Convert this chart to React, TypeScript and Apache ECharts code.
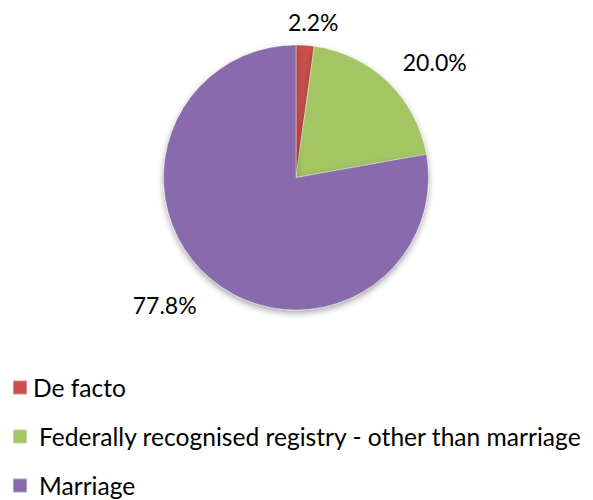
import React, { useEffect, useRef } from "react";
import * as echarts from "echarts";

const categories = [
  "De facto",
  "Federally recognised registry - other than marriage",
  "Marriage",
];
const values = [2.2, 20.0, 77.8];
const colors = ["#C9504C", "#A3C563", "#896BAC"];

// label placement tweaks (px) relative to an anchor just outside each slice
const labelDx = [6, 26, -27];
const labelDy = [7, 2, 3];
const legendTextPad = [1, 7, 7];

const CX = 296;
const CY = 177.5;
const R = 132.5;

export default function App() {
  const ref = useRef<HTMLDivElement>(null);
  useEffect(() => {
    if (!ref.current) return;
    const chart = echarts.init(ref.current, null, { renderer: "svg" });
    const total = values.reduce((a, b) => a + b, 0);
    const mids: number[] = [];
    let acc = 0;
    values.forEach((v) => {
      mids.push(90 - ((acc + v / 2) / total) * 360);
      acc += v;
    });
    chart.setOption({
      animation: false,
      backgroundColor: "#ffffff",
      legend: {
        type: "plain",
        orient: "vertical",
        left: 12,
        top: 375,
        padding: 0,
        itemGap: 24,
        itemWidth: 14,
        itemHeight: 14,
        icon: "rect",
        data: categories.map((c, i) => ({
          name: c,
          textStyle: { padding: [0, 0, 0, legendTextPad[i]] },
        })),
        textStyle: {
          fontFamily: "Lato",
          fontSize: 24.6,
          lineHeight: 24,
          color: "#000",
        },
      },
      series: [
        {
          type: "pie",
          center: [CX, CY],
          radius: R,
          startAngle: 90,
          clockwise: true,
          data: categories.map((c, i) => ({
            name: c,
            value: values[i],
            itemStyle: { color: colors[i] },
          })),
          itemStyle: {
            borderColor: "rgba(255,255,255,0.35)",
            borderWidth: 1,
            shadowBlur: 6,
            shadowOffsetY: 3,
            shadowColor: "rgba(0,0,0,0.35)",
          },
          label: {
            show: true,
            position: "outside",
            formatter: (p: any) => p.value.toFixed(1) + "%",
            fontFamily: "Lato",
            fontSize: 23,
            color: "#000",
          },
          labelLine: { show: false },
          labelLayout: (p: any) => {
            const i = p.dataIndex;
            const a = (mids[i] * Math.PI) / 180;
            const d = R + 30;
            return {
              x: CX + d * Math.cos(a) + labelDx[i],
              y: CY - d * Math.sin(a) + labelDy[i],
              align: "center",
              verticalAlign: "middle",
            };
          },
          emphasis: { disabled: true },
        },
      ],
    });
    return () => chart.dispose();
  }, []);
  return (
    <div
      ref={ref}
      style={{ position: "fixed", left: 0, top: 0, width: 593, height: 500 }}
    />
  );
}
